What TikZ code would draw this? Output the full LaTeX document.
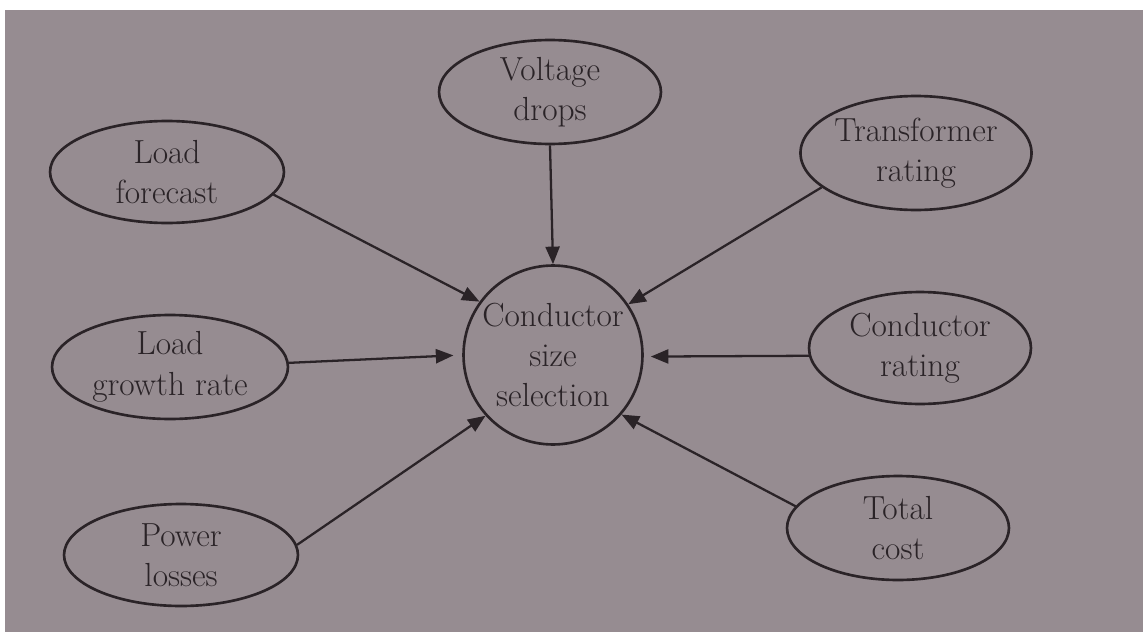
\documentclass[tikz,border=0pt]{standalone}
\usetikzlibrary{shapes.geometric,arrows.meta}
\definecolor{paper}{HTML}{968C91}
\definecolor{ink}{HTML}{2A2327}
\begin{document}
\begin{tikzpicture}[x=0.02cm,y=-0.02cm,
  topic/.style={ellipse,draw=ink,line width=1.5pt,inner sep=0pt,align=center,
    text=ink,font=\fontsize{19}{23}\selectfont},
  hub/.style={topic,circle,minimum size=3.58cm},
  link/.style={draw=ink,line width=1.3pt,-{Triangle[length=10pt,width=8pt]}}]
\useasboundingbox (0,0) rectangle (1143,632);
\fill[white] (0,0) rectangle (1143,632);
\fill[paper] (5,10) rectangle (1143,632);

% central circle
\node[hub] (c) at (553,355) {Conductor\\size\\selection};

% surrounding factors
\node[topic,minimum width=4.44cm,minimum height=2.08cm] (v)  at (550,92)  {Voltage\\drops};
\node[topic,minimum width=4.68cm,minimum height=2.04cm] (lf) at (167,172) {Load\\forecast};
\node[topic,minimum width=4.48cm,minimum height=2.28cm] (tr) at (916,153) {Transformer\\rating};
\node[topic,minimum width=4.72cm,minimum height=2.08cm] (lg) at (170,367) {Load\\growth rate};
\node[topic,minimum width=4.44cm,minimum height=2.24cm] (cr) at (920,348) {Conductor\\rating};
\node[topic,minimum width=4.68cm,minimum height=2.04cm] (pl) at (181,555) {Power\\losses};
\node[topic,minimum width=4.44cm,minimum height=2.08cm] (tc) at (898,528) {Total\\cost};

% arrows into the circle
\draw[link] (v.south) -- (c.north);
\draw[link] (lf.-12) -- (c.144);
\draw[link] (tr.200) -- (c.34);
\draw[link,shorten >=5pt] (lg.2) -- (c.180);
\draw[link,shorten >=4pt] (cr.184) -- (c.-1);
\draw[link] (pl.5) -- (c.222);
\draw[link] (tc.168) -- (c.-41);
\end{tikzpicture}
\end{document}
